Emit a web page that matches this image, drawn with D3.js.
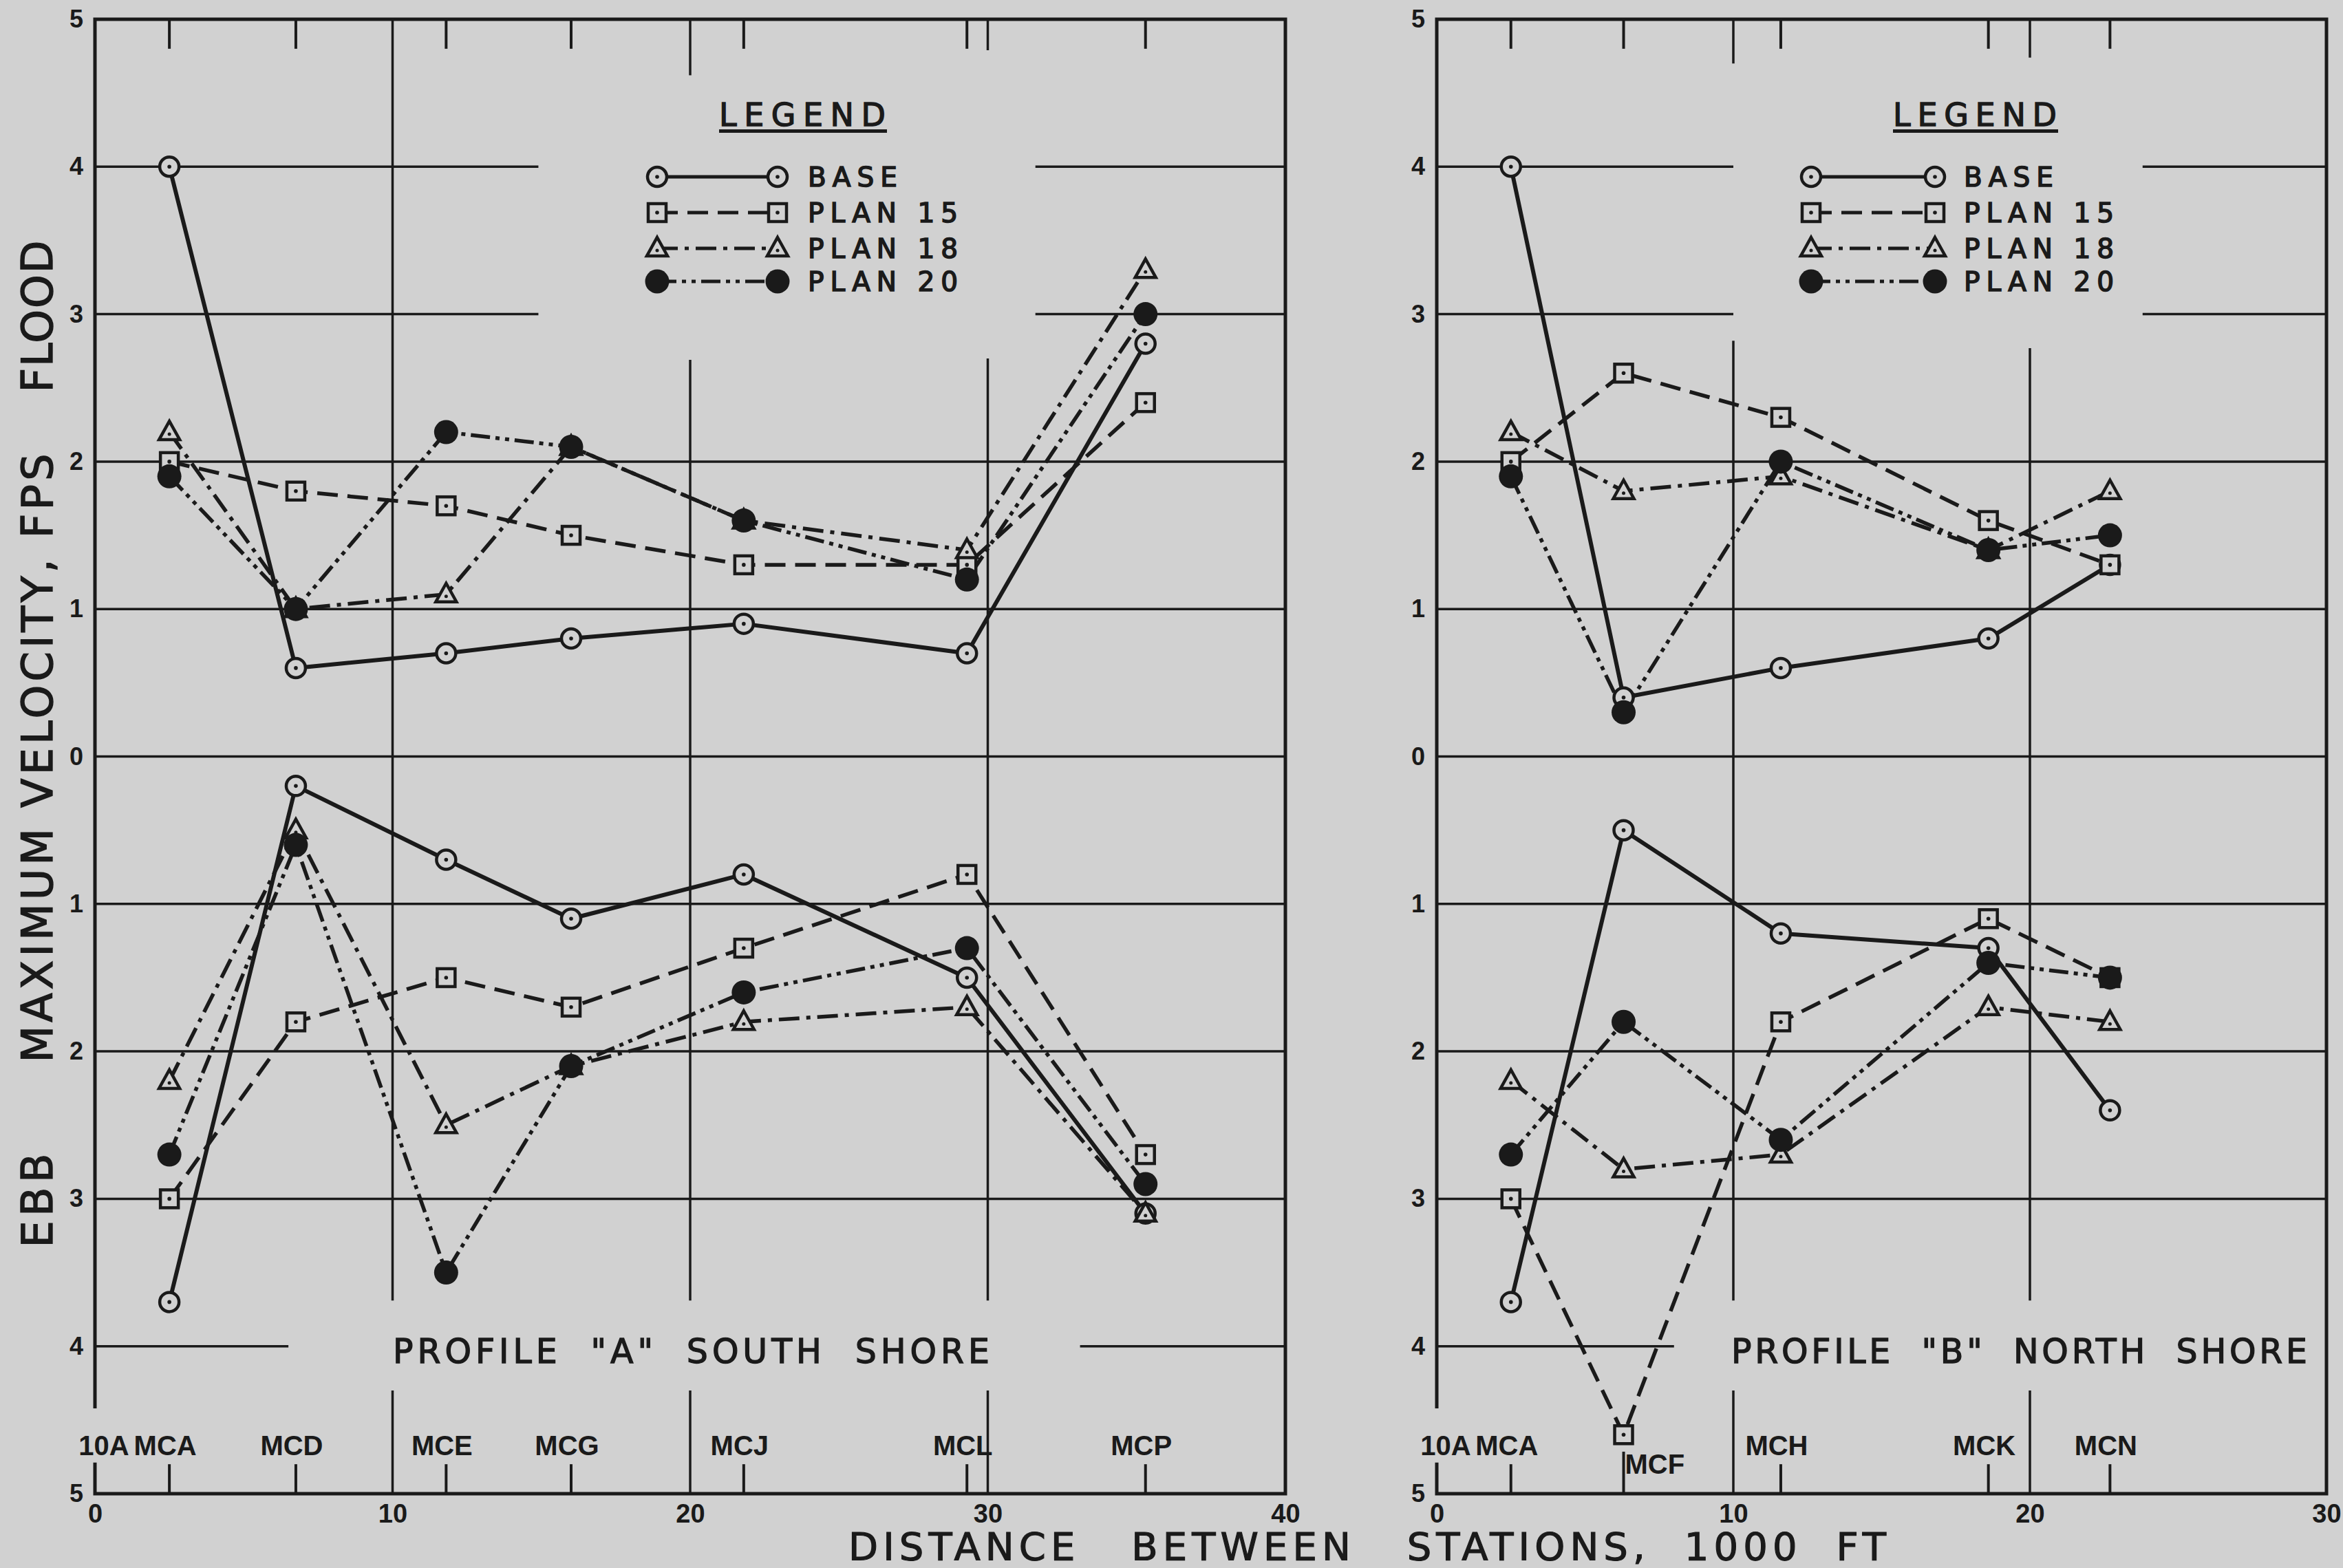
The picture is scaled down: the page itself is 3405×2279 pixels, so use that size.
<!DOCTYPE html>
<html><head><meta charset="utf-8">
<script src="https://cdn.jsdelivr.net/npm/d3@7"></script>
<style>
html,body{margin:0;padding:0;background:#d1d1d1;}
svg{display:block;}
</style></head>
<body>
<svg id="chart" width="3405" height="2279"></svg>
<script>
// ================= DATA =================
const seriesNames = ["BASE", "PLAN 15", "PLAN 18", "PLAN 20"];
const yTickValues = [5, 4, 3, 2, 1, 0, -1, -2, -3, -4, -5];
const yTickLabels = ["5", "4", "3", "2", "1", "0", "1", "2", "3", "4", "5"];
const leftXTicks = [0, 10, 20, 30, 40];
const rightXTicks = [0, 10, 20, 30];
const originStation = "10A";

// Profile "A" South Shore
const leftStations = ["MCA", "MCD", "MCE", "MCG", "MCJ", "MCL", "MCP"];
const leftStationX = [2.5, 6.75, 11.8, 16.0, 21.8, 29.3, 35.3];
const leftFloodBase   = [4.0, 0.6, 0.7, 0.8, 0.9, 0.7, 2.8];
const leftFloodPlan15 = [2.0, 1.8, 1.7, 1.5, 1.3, 1.3, 2.4];
const leftFloodPlan18 = [2.2, 1.0, 1.1, 2.1, 1.6, 1.4, 3.3];
const leftFloodPlan20 = [1.9, 1.0, 2.2, 2.1, 1.6, 1.2, 3.0];
const leftEbbBase     = [3.7, 0.2, 0.7, 1.1, 0.8, 1.5, 3.1];
const leftEbbPlan15   = [3.0, 1.8, 1.5, 1.7, 1.3, 0.8, 2.7];
const leftEbbPlan18   = [2.2, 0.5, 2.5, 2.1, 1.8, 1.7, 3.1];
const leftEbbPlan20   = [2.7, 0.6, 3.5, 2.1, 1.6, 1.3, 2.9];

// Profile "B" North Shore
const rightStations = ["MCA", "MCF", "MCH", "MCK", "MCN"];
const rightStationX = [2.5, 6.3, 11.6, 18.6, 22.7];
const rightFloodBase   = [4.0, 0.4, 0.6, 0.8, 1.3];
const rightFloodPlan15 = [2.0, 2.6, 2.3, 1.6, 1.3];
const rightFloodPlan18 = [2.2, 1.8, 1.9, 1.4, 1.8];
const rightFloodPlan20 = [1.9, 0.3, 2.0, 1.4, 1.5];
const rightEbbBase     = [3.7, 0.5, 1.2, 1.3, 2.4];
const rightEbbPlan15   = [3.0, 4.6, 1.8, 1.1, 1.5];
const rightEbbPlan18   = [2.2, 2.8, 2.7, 1.7, 1.8];
const rightEbbPlan20   = [2.7, 1.8, 2.6, 1.4, 1.5];

// ================= STYLE / LAYOUT =================
const INK = "#1a1a1a", BG = "#d1d1d1";
const FONT = "'DejaVu Sans', sans-serif";
const BFONT = "'Liberation Sans', Arial, sans-serif";

const seriesStyle = [
  { shape: "circle",   dash: null,                 width: 6 },
  { shape: "square",   dash: "30,14",              width: 5.5 },
  { shape: "triangle", dash: "30,10,6,10",         width: 5.5 },
  { shape: "disc",     dash: "28,8,6,8,6,8",       width: 5.5 }
];

const y = d3.scaleLinear().domain([-5, 5]).range([2171, 28]);

const svg = d3.select("#chart");
svg.append("rect").attr("width", 3405).attr("height", 2279).attr("fill", BG);

const panels = [
  {
    x: d3.scaleLinear().domain([0, 40]).range([138, 1868]),
    xTicks: leftXTicks,
    stations: leftStations, sx: leftStationX,
    flood: [leftFloodBase, leftFloodPlan15, leftFloodPlan18, leftFloodPlan20],
    ebb: [leftEbbBase, leftEbbPlan15, leftEbbPlan18, leftEbbPlan20],
    hGaps: { "4": [[0, 14.9], [31.6, 40]], "3": [[0, 14.9], [31.6, 40]], "-4": [[0, 6.5], [33.1, 40]] },
    vGrid: [
      { x: 10, segs: [[5, -3.69], [-4.3, -5]] },
      { x: 20, segs: [[5, 4.62], [2.69, -3.69], [-4.3, -5]] },
      { x: 30, segs: [[5, 4.79], [2.70, -3.69], [-4.3, -5]] }
    ],
    legend: { x1: 955, x2: 1130, tx: 1174, hx: 1045, hw: 242 },
    profile: { text: 'PROFILE  "A"  SOUTH  SHORE', x: 571, w: 867 }
  },
  {
    x: d3.scaleLinear().domain([0, 30]).range([2088, 3381]),
    xTicks: rightXTicks,
    stations: rightStations, sx: rightStationX,
    flood: [rightFloodBase, rightFloodPlan15, rightFloodPlan18, rightFloodPlan20],
    ebb: [rightEbbBase, rightEbbPlan15, rightEbbPlan18, rightEbbPlan20],
    hGaps: { "4": [[0, 10], [23.8, 30]], "3": [[0, 10], [23.8, 30]], "-4": [[0, 8.0]] },
    vGrid: [
      { x: 10, segs: [[5, 4.70], [2.82, -3.69], [-4.3, -5]] },
      { x: 20, segs: [[5, 4.74], [2.77, -3.69], [-4.3, -5]] }
    ],
    legend: { x1: 2632, x2: 2812, tx: 2854, hx: 2751, hw: 238 },
    profile: { text: 'PROFILE  "B"  NORTH  SHORE', x: 2516, w: 837 }
  }
];

function marker(g, shape, cx, cy) {
  if (shape === "circle") {
    g.append("circle").attr("cx", cx).attr("cy", cy).attr("r", 14)
      .attr("fill", BG).attr("stroke", INK).attr("stroke-width", 4.5);
    g.append("circle").attr("cx", cx).attr("cy", cy).attr("r", 2.8).attr("fill", INK);
  } else if (shape === "square") {
    g.append("rect").attr("x", cx - 13).attr("y", cy - 13).attr("width", 26).attr("height", 26)
      .attr("fill", BG).attr("stroke", INK).attr("stroke-width", 4.5);
    g.append("circle").attr("cx", cx).attr("cy", cy).attr("r", 2.8).attr("fill", INK);
  } else if (shape === "triangle") {
    g.append("path").attr("d", `M${cx},${cy - 16}L${cx + 15},${cy + 11}L${cx - 15},${cy + 11}Z`)
      .attr("fill", BG).attr("stroke", INK).attr("stroke-width", 4.5).attr("stroke-linejoin", "miter");
    g.append("circle").attr("cx", cx).attr("cy", cy + 3).attr("r", 2.5).attr("fill", INK);
  } else {
    g.append("circle").attr("cx", cx).attr("cy", cy).attr("r", 17.5).attr("fill", INK);
  }
}

panels.forEach(p => {
  const X = p.x;
  const [x0, x1] = X.domain();
  const g = svg.append("g");
  const grid = g.append("g").attr("stroke", INK).attr("stroke-width", 3.5).attr("fill", "none");

  // horizontal grid
  [4, 3, 2, 1, 0, -1, -2, -3, -4].forEach(v => {
    const segs = p.hGaps[String(v)] || [[x0, x1]];
    segs.forEach(s => grid.append("line")
      .attr("x1", X(s[0])).attr("x2", X(s[1])).attr("y1", y(v)).attr("y2", y(v)));
  });
  // vertical grid
  p.vGrid.forEach(vg => vg.segs.forEach(s => grid.append("line")
    .attr("x1", X(vg.x)).attr("x2", X(vg.x)).attr("y1", y(s[0])).attr("y2", y(s[1]))));

  // frame
  const frame = g.append("g").attr("stroke", INK).attr("stroke-width", 5).attr("fill", "none")
    .attr("stroke-linecap", "square");
  frame.append("path").attr("d",
    `M${X(x0)},${y(-4.41)}L${X(x0)},${y(5)}L${X(x1)},${y(5)}L${X(x1)},${y(-5)}L${X(x0)},${y(-5)}L${X(x0)},${y(-4.8)}`);

  // station ticks (top and bottom)
  const ticks = g.append("g").attr("stroke", INK).attr("stroke-width", 4);
  p.stations.forEach((s, i) => {
    const sx = X(p.sx[i]);
    ticks.append("line").attr("x1", sx).attr("x2", sx).attr("y1", y(5)).attr("y2", y(4.8));
    ticks.append("line").attr("x1", sx).attr("x2", sx).attr("y1", y(-5)).attr("y2", y(s === "MCF" ? -4.715 : -4.8));
  });

  // station labels
  const sl = g.append("g").attr("font-family", BFONT).attr("font-weight", "bold")
    .attr("font-size", 40).attr("fill", INK);
  sl.append("text").attr("x", X(0) + 13).attr("y", 2115).attr("text-anchor", "middle").text(originStation);
  p.stations.forEach((s, i) => {
    const sx = X(p.sx[i]);
    if (s === "MCF") {
      sl.append("text").attr("x", sx + 2).attr("y", 2142).attr("text-anchor", "start").text(s);
    } else {
      sl.append("text").attr("x", sx - 6).attr("y", 2115).attr("text-anchor", "middle").text(s);
    }
  });

  // axes labels
  const yAxis = d3.axisLeft(y).tickValues(yTickValues)
    .tickFormat((d, i) => yTickLabels[i]).tickSize(0).tickPadding(17);
  const ya = g.append("g").attr("transform", `translate(${X(x0)},0)`).call(yAxis);
  ya.select(".domain").remove();
  ya.selectAll("text").attr("font-family", BFONT).attr("font-weight", "bold")
    .attr("font-size", 36).attr("fill", INK);

  const xAxis = d3.axisBottom(X).tickValues(p.xTicks).tickSize(0).tickPadding(15);
  const xa = g.append("g").attr("transform", `translate(0,${y(-5)})`).call(xAxis);
  xa.select(".domain").remove();
  xa.selectAll("text").attr("font-family", BFONT).attr("font-weight", "bold")
    .attr("font-size", 38).attr("fill", INK);

  // series lines
  const lineGen = d3.line().x(d => X(d.x)).y(d => y(d.v));
  const lines = g.append("g").attr("fill", "none").attr("stroke", INK)
    .attr("stroke-linejoin", "round");
  const pts = [];
  seriesNames.forEach((name, si) => {
    const st = seriesStyle[si];
    const fl = p.flood[si].map((v, i) => ({ x: p.sx[i], v: v }));
    const eb = p.ebb[si].map((v, i) => ({ x: p.sx[i], v: -v }));
    [fl, eb].forEach(dat => {
      lines.append("path").attr("d", lineGen(dat))
        .attr("stroke-width", st.width)
        .attr("stroke-dasharray", st.dash);
      dat.forEach(d => pts.push({ shape: st.shape, d }));
    });
  });
  const mk = g.append("g");
  pts.forEach(o => marker(mk, o.shape, X(o.d.x), y(o.d.v)));

  // legend
  const L = p.legend;
  const lg = g.append("g");
  lg.append("text").attr("x", L.hx).attr("y", 183).attr("font-family", FONT)
    .attr("font-size", 46).attr("fill", INK).attr("stroke", INK).attr("stroke-width", 1.4)
    .attr("textLength", L.hw).attr("lengthAdjust", "spacing").text("LEGEND");
  lg.append("rect").attr("x", L.hx).attr("y", 188).attr("width", L.hw + 2).attr("height", 5).attr("fill", INK);
  const rows = [257, 309, 361, 409];
  seriesNames.forEach((name, si) => {
    const st = seriesStyle[si];
    const ry = rows[si];
    lg.append("line").attr("x1", L.x1).attr("x2", L.x2).attr("y1", ry).attr("y2", ry)
      .attr("stroke", INK).attr("stroke-width", 5).attr("stroke-dasharray", st.dash);
    marker(lg, st.shape, L.x1, ry);
    marker(lg, st.shape, L.x2, ry);
    lg.append("text").attr("x", L.tx).attr("y", ry + 14).attr("font-family", FONT)
      .attr("font-size", 39).attr("letter-spacing", 9).attr("fill", INK)
      .attr("stroke", INK).attr("stroke-width", 1.6).text(name);
  });

  // profile caption
  g.append("text").attr("x", p.profile.x).attr("y", 1981).attr("font-family", FONT)
    .attr("font-size", 49).attr("fill", INK).attr("stroke", INK).attr("stroke-width", 1.3)
    .attr("xml:space", "preserve")
    .attr("textLength", p.profile.w).attr("lengthAdjust", "spacing")
    .text(p.profile.text);
});

// axis titles
svg.append("text").attr("x", 1233).attr("y", 2267).attr("font-family", FONT)
  .attr("font-size", 56).attr("fill", INK).attr("stroke", INK).attr("stroke-width", 1.2)
  .attr("xml:space", "preserve")
  .attr("textLength", 1508).attr("lengthAdjust", "spacing")
  .text("DISTANCE   BETWEEN   STATIONS,  1000  FT");

[["FLOOD", 460, 221], ["MAXIMUM VELOCITY, FPS", 1102, 885], ["EBB", 1745, 137]].forEach(t => {
  svg.append("text").attr("transform", `translate(76,${t[1]}) rotate(-90)`)
    .attr("text-anchor", "middle").attr("font-family", FONT).attr("font-size", 62)
    .attr("fill", INK).attr("stroke", INK).attr("stroke-width", 1.4)
    .attr("xml:space", "preserve")
    .attr("textLength", t[2]).attr("lengthAdjust", "spacing").text(t[0]);
});
</script>
</body></html>
